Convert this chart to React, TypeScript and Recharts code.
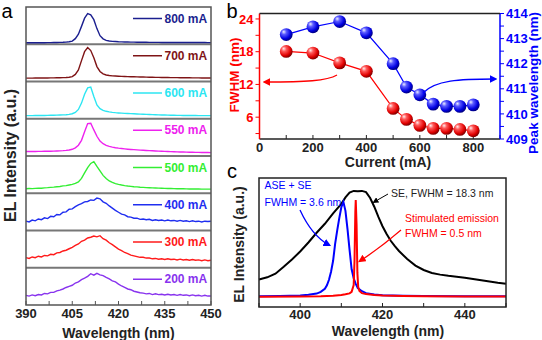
import { LineChart, Line, XAxis, YAxis, ReferenceLine } from "recharts";

const FONT = '"Liberation Sans", Arial, sans-serif';

// ---- panel a: EL spectra at different currents (normalized, one strip each)
const WL_A = [
  390, 391, 392, 393, 394, 395, 396, 397, 398, 399,
  400, 401, 402, 403, 404, 405, 406, 407, 408, 409,
  410, 411, 412, 413, 414, 415, 416, 417, 418, 419,
  420, 421, 422, 423, 424, 425, 426, 427, 428, 429,
  430, 431, 432, 433, 434, 435, 436, 437, 438, 439,
  440, 441, 442, 443, 444, 445, 446, 447, 448, 449, 450,
];

const I_800 = [
  0.04, 0.04, 0.041, 0.04, 0.041, 0.041, 0.042, 0.043, 0.044, 0.045,
  0.047, 0.049, 0.052, 0.057, 0.066, 0.085, 0.15, 0.27, 0.48, 0.7,
  0.82, 0.79, 0.66, 0.42, 0.23, 0.145, 0.105, 0.088, 0.078, 0.072,
  0.067, 0.064, 0.061, 0.059, 0.057, 0.056, 0.055, 0.054, 0.053, 0.052,
  0.051, 0.05, 0.05, 0.049, 0.049, 0.048, 0.048, 0.047, 0.047, 0.047,
  0.046, 0.046, 0.046, 0.046, 0.045, 0.045, 0.045, 0.045, 0.045, 0.044, 0.044,
];
const I_700 = [
  0.09, 0.09, 0.091, 0.092, 0.092, 0.093, 0.094, 0.095, 0.096, 0.097,
  0.099, 0.101, 0.104, 0.108, 0.115, 0.13, 0.19, 0.31, 0.56, 0.8,
  0.91, 0.83, 0.64, 0.4, 0.27, 0.205, 0.175, 0.16, 0.152, 0.146,
  0.141, 0.137, 0.134, 0.131, 0.128, 0.126, 0.124, 0.122, 0.12, 0.118,
  0.116, 0.114, 0.112, 0.11, 0.108, 0.107, 0.106, 0.105, 0.104, 0.103,
  0.102, 0.101, 0.1, 0.099, 0.098, 0.097, 0.096, 0.095, 0.094, 0.093, 0.092,
];
const I_600 = [
  0.084, 0.085, 0.085, 0.086, 0.087, 0.088, 0.089, 0.09, 0.092, 0.094,
  0.096, 0.099, 0.103, 0.108, 0.116, 0.135, 0.17, 0.25, 0.42, 0.66,
  0.83, 0.85, 0.6, 0.37, 0.27, 0.225, 0.2, 0.183, 0.172, 0.163,
  0.156, 0.15, 0.145, 0.141, 0.137, 0.133, 0.129, 0.125, 0.121, 0.117,
  0.113, 0.11, 0.107, 0.104, 0.101, 0.099, 0.097, 0.095, 0.093, 0.091,
  0.09, 0.089, 0.088, 0.087, 0.086, 0.086, 0.085, 0.085, 0.084, 0.084, 0.084,
];
const I_550 = [
  0.12, 0.121, 0.122, 0.121, 0.123, 0.124, 0.126, 0.127, 0.129, 0.131,
  0.134, 0.138, 0.143, 0.15, 0.16, 0.18, 0.22, 0.29, 0.42, 0.65,
  0.87, 0.88, 0.7, 0.53, 0.4, 0.33, 0.285, 0.258, 0.238, 0.222,
  0.21, 0.2, 0.191, 0.183, 0.176, 0.17, 0.164, 0.159, 0.154, 0.149,
  0.145, 0.14, 0.136, 0.132, 0.128, 0.124, 0.12, 0.117, 0.114, 0.111,
  0.108, 0.106, 0.104, 0.102, 0.1, 0.098, 0.096, 0.095, 0.093, 0.092, 0.09,
];
const I_500 = [
  0.12, 0.126, 0.124, 0.131, 0.136, 0.134, 0.145, 0.15, 0.158, 0.165,
  0.176, 0.183, 0.197, 0.205, 0.222, 0.24, 0.265, 0.305, 0.4, 0.545,
  0.69, 0.8, 0.85, 0.72, 0.6, 0.48, 0.395, 0.33, 0.29, 0.258,
  0.238, 0.22, 0.206, 0.195, 0.186, 0.176, 0.17, 0.163, 0.158, 0.152,
  0.148, 0.144, 0.141, 0.137, 0.134, 0.131, 0.129, 0.126, 0.124, 0.122,
  0.121, 0.119, 0.118, 0.116, 0.116, 0.115, 0.113, 0.112, 0.112, 0.111, 0.11,
];
const I_400 = [
  0.25, 0.23, 0.28, 0.26, 0.31, 0.29, 0.34, 0.32, 0.38, 0.37,
  0.43, 0.42, 0.49, 0.5, 0.57, 0.58, 0.64, 0.69, 0.72, 0.77,
  0.78, 0.82, 0.81, 0.87, 0.85, 0.77, 0.73, 0.66, 0.6, 0.54,
  0.49, 0.44, 0.42, 0.37, 0.36, 0.33, 0.33, 0.3, 0.31, 0.29,
  0.3, 0.27, 0.29, 0.27, 0.28, 0.26, 0.28, 0.26, 0.27, 0.25,
  0.27, 0.25, 0.26, 0.24, 0.26, 0.24, 0.25, 0.23, 0.25, 0.24, 0.25,
];
const I_300 = [
  0.27, 0.25, 0.29, 0.27, 0.31, 0.29, 0.33, 0.32, 0.36, 0.35,
  0.4, 0.41, 0.45, 0.47, 0.51, 0.55, 0.6, 0.64, 0.71, 0.74,
  0.8, 0.82, 0.85, 0.83, 0.86, 0.78, 0.74, 0.67, 0.62, 0.56,
  0.5, 0.46, 0.41, 0.38, 0.34, 0.32, 0.3, 0.28, 0.28, 0.26,
  0.26, 0.24, 0.25, 0.23, 0.24, 0.22, 0.24, 0.22, 0.23, 0.21,
  0.23, 0.21, 0.22, 0.2, 0.22, 0.2, 0.21, 0.19, 0.21, 0.19, 0.2,
];
const I_200 = [
  0.26, 0.24, 0.27, 0.25, 0.28, 0.27, 0.31, 0.3, 0.34, 0.34,
  0.38, 0.4, 0.43, 0.47, 0.5, 0.53, 0.59, 0.62, 0.68, 0.72,
  0.77, 0.84, 0.8, 0.85, 0.81, 0.79, 0.74, 0.7, 0.65, 0.62,
  0.56, 0.51, 0.47, 0.43, 0.41, 0.37, 0.35, 0.33, 0.32, 0.3,
  0.31, 0.28, 0.3, 0.28, 0.29, 0.27, 0.29, 0.27, 0.28, 0.26,
  0.28, 0.26, 0.27, 0.25, 0.27, 0.25, 0.26, 0.24, 0.26, 0.24, 0.24,
];

const SERIES_A = [
  { key: "i800", label: "800 mA", color: "#1b1f8f", values: I_800 },
  { key: "i700", label: "700 mA", color: "#7f1416", values: I_700 },
  { key: "i600", label: "600 mA", color: "#2ce6f2", values: I_600 },
  { key: "i550", label: "550 mA", color: "#ee22ee", values: I_550 },
  { key: "i500", label: "500 mA", color: "#33ee33", values: I_500 },
  { key: "i400", label: "400 mA", color: "#1f2ef0", values: I_400 },
  { key: "i300", label: "300 mA", color: "#ff1a1a", values: I_300 },
  { key: "i200", label: "200 mA", color: "#8833ee", values: I_200 },
];

const A_TICKS = [390, 397.5, 405, 412.5, 420, 427.5, 435, 442.5, 450];
const A_TICK_LABELS = [390, 405, 420, 435, 450];
const A_Y_TICKS = Array.from({ length: 33 }, (_, i) => i * 0.25);
const A_SEPARATORS = [1, 2, 3, 4, 5, 6, 7];

// ---- panel b: FWHM and peak wavelength vs current
const CURRENT = [100, 200, 300, 400, 500, 550, 600, 650, 700, 750, 800];
const FWHM = [18.05, 17.75, 15.95, 14.4, 7.6, 5.6, 4.5, 3.95, 3.95, 3.75, 3.5];
const PEAK_WL = [413.16, 413.47, 413.68, 413.23, 412.0, 411.07, 410.76, 410.39, 410.3, 410.3, 410.36];

const CURRENT_TICKS = [0, 100, 200, 300, 400, 500, 600, 700, 800, 900];
const CURRENT_LABELS = [0, 200, 400, 600, 800];
const FWHM_TICKS = [3, 6, 9, 12, 15, 18, 21, 24];
const FWHM_LABELS = [6, 12, 18, 24];
const PEAK_TICKS = [409, 409.5, 410, 410.5, 411, 411.5, 412, 412.5, 413, 413.5, 414];
const PEAK_LABELS = [409, 410, 411, 412, 413, 414];

// ---- panel c: SE, ASE + SE and stimulated emission spectra
const SE_WL = [
  390, 392, 394, 396, 398, 400, 402, 404, 406, 408, 410, 411, 412, 413, 414, 415,
  416, 417, 418, 419, 420, 421, 422, 423, 424, 426, 428, 430, 432, 434, 436, 438,
  440, 442, 444, 446, 448, 450,
];
const SE_I = [
  0.73, 0.82, 0.97, 1.25, 1.55, 1.88, 2.25, 2.65, 3.02, 3.45, 3.84, 4.1, 4.3, 4.37, 4.36, 4.37,
  4.32, 4.08, 3.72, 3.3, 2.92, 2.6, 2.32, 2.1, 1.9, 1.57, 1.3, 1.12, 1.0, 0.93, 0.88, 0.84,
  0.8, 0.75, 0.7, 0.65, 0.6, 0.56,
];
const ASE_WL = [
  390, 395, 400, 402, 404, 405, 406, 406.5, 407, 407.5, 408, 408.5, 409, 409.5, 410,
  410.5, 411, 411.5, 412, 412.5, 413, 413.5, 414, 415, 416, 418, 420, 425, 430, 440, 450,
];
const ASE_I = [
  0.04, 0.05, 0.07, 0.1, 0.15, 0.22, 0.35, 0.49, 0.72, 1.05, 1.5, 2.2, 2.75, 3.25, 3.7,
  3.92, 3.55, 2.8, 1.95, 1.15, 0.78, 0.55, 0.38, 0.25, 0.17, 0.11, 0.08, 0.06, 0.05, 0.04, 0.04,
];
const LASER_WL = [
  390, 400, 405, 408, 410, 411, 412, 412.5, 413, 413.2, 413.4, 413.5, 413.7, 413.9,
  414.1, 414.4, 415, 416, 418, 420, 425, 430, 440, 450,
];
const LASER_I = [
  0.02, 0.03, 0.04, 0.06, 0.09, 0.12, 0.16, 0.22, 0.5, 1.5, 3.5, 3.99, 3.0, 1.0,
  0.42, 0.26, 0.17, 0.13, 0.09, 0.07, 0.05, 0.04, 0.03, 0.03,
];

const C_TICKS = [390, 400, 410, 420, 430, 440, 450];
const C_TICK_LABELS = [400, 420, 440];
const C_Y_TICKS = [0, 1, 2, 3, 4];

const stackRows = WL_A.map((wl, i) => {
  const row: Record<string, number> = { wl };
  SERIES_A.forEach((s, k) => {
    row[s.key] = s.values[i] + (SERIES_A.length - 1 - k);
  });
  return row;
});

const bRows = CURRENT.map((c, i) => ({ current: c, fwhm: FWHM[i], peak: PEAK_WL[i] }));

const toXY = (xs: number[], ys: number[]) => xs.map((x, i) => ({ wl: x, v: ys[i] }));
const seRows = toXY(SE_WL, SE_I);
const aseRows = toXY(ASE_WL, ASE_I);
const laserRows = toXY(LASER_WL, LASER_I);

const tickFont = { fontSize: 13, fontWeight: 700, fill: "#222", fontFamily: FONT };

function ball(id: string) {
  return (props: any) => {
    const { cx, cy, index } = props;
    if (cx == null || cy == null) return <g key={`${id}-${index}`} />;
    return <circle key={`${id}-${index}`} cx={cx} cy={cy} r={6.4} fill={`url(#${id})`} />;
  };
}

function PanelA() {
  // plot area: x 26..211, y 7..305
  return (
    <div style={{ position: "absolute", left: 0, top: 0 }}>
      <LineChart
        width={230}
        height={340}
        data={stackRows}
        margin={{ top: 7, right: 19, bottom: 5, left: 6 }}
      >
        <XAxis
          dataKey="wl"
          type="number"
          domain={[390, 450]}
          ticks={A_TICKS}
          height={30}
          axisLine={false}
          tickSize={-4}
          tickMargin={8}
          tickLine={{ stroke: "#555" }}
          tick={tickFont}
          interval={0}
          tickFormatter={(v: number) => (A_TICK_LABELS.includes(v) ? String(v) : "")}
        />
        <YAxis
          type="number"
          domain={[0, 8]}
          ticks={A_Y_TICKS}
          width={20}
          axisLine={false}
          tickSize={-3}
          tickLine={{ stroke: "#555" }}
          tick={false}
          interval={0}
        />
        {A_SEPARATORS.map((y) => (
          <ReferenceLine key={y} y={y} stroke="#777" strokeWidth={2} />
        ))}
        {SERIES_A.map((s) => (
          <Line
            key={s.key}
            dataKey={s.key}
            type="linear"
            stroke={s.color}
            strokeWidth={1.4}
            dot={false}
            isAnimationActive={false}
          />
        ))}
      </LineChart>
    </div>
  );
}

function PanelB() {
  // plot area: x 259.5..500, y 13.5..139
  return (
    <div style={{ position: "absolute", left: 230, top: 0 }}>
      <LineChart
        width={312}
        height={170}
        data={bRows}
        margin={{ top: 13.5, right: 12, bottom: 6, left: 4.5 }}
      >
        <XAxis
          dataKey="current"
          type="number"
          domain={[0, 900]}
          ticks={CURRENT_TICKS}
          height={25}
          axisLine={{ stroke: "#222", strokeWidth: 1.5 }}
          tickSize={-4}
          tickMargin={8}
          tickLine={{ stroke: "#222" }}
          tick={tickFont}
          interval={0}
          tickFormatter={(v: number) => (CURRENT_LABELS.includes(v) ? String(v) : "")}
        />
        <YAxis
          yAxisId="fwhm"
          type="number"
          domain={[2, 25]}
          ticks={FWHM_TICKS}
          width={25}
          axisLine={{ stroke: "#f00", strokeWidth: 1.5 }}
          tickSize={4}
          tickMargin={2}
          tickLine={{ stroke: "#f00" }}
          tick={{ ...tickFont, fill: "#f00" }}
          interval={0}
          tickFormatter={(v: number) => (FWHM_LABELS.includes(v) ? String(v) : "")}
        />
        <YAxis
          yAxisId="peak"
          orientation="right"
          type="number"
          domain={[409, 414]}
          ticks={PEAK_TICKS}
          width={30}
          axisLine={{ stroke: "#00f", strokeWidth: 1.5 }}
          tickSize={4}
          tickMargin={2}
          tickLine={{ stroke: "#00f" }}
          tick={{ ...tickFont, fill: "#00f" }}
          interval={0}
          tickFormatter={(v: number) => (PEAK_LABELS.includes(v) ? String(v) : "")}
        />
        <Line
          yAxisId="fwhm"
          dataKey="fwhm"
          type="linear"
          stroke="#f00"
          strokeWidth={1.2}
          dot={ball("ballRed")}
          isAnimationActive={false}
        />
        <Line
          yAxisId="peak"
          dataKey="peak"
          type="linear"
          stroke="#00f"
          strokeWidth={1.2}
          dot={ball("ballBlue")}
          isAnimationActive={false}
        />
      </LineChart>
    </div>
  );
}

function PanelC() {
  // plot area: x 259..506, y 178..307
  return (
    <div style={{ position: "absolute", left: 230, top: 170 }}>
      <LineChart width={312} height={170} margin={{ top: 8, right: 36, bottom: 5, left: 9 }}>
        <XAxis
          dataKey="wl"
          type="number"
          domain={[390, 450]}
          ticks={C_TICKS}
          height={28}
          axisLine={false}
          tickSize={-4}
          tickMargin={7}
          tickLine={{ stroke: "#222" }}
          tick={tickFont}
          interval={0}
          tickFormatter={(v: number) => (C_TICK_LABELS.includes(v) ? String(v) : "")}
        />
        <YAxis
          type="number"
          domain={[-0.4, 4.9]}
          ticks={C_Y_TICKS}
          width={20}
          axisLine={false}
          tickSize={-4}
          tickLine={{ stroke: "#222" }}
          tick={false}
          interval={0}
        />
        <Line data={seRows} dataKey="v" type="linear" stroke="#000" strokeWidth={2} dot={false} isAnimationActive={false} />
        <Line data={aseRows} dataKey="v" type="linear" stroke="#0000ff" strokeWidth={2} dot={false} isAnimationActive={false} />
        <Line data={laserRows} dataKey="v" type="linear" stroke="#ff0000" strokeWidth={2} dot={false} isAnimationActive={false} />
      </LineChart>
    </div>
  );
}

function Overlay() {
  const bold = { fontFamily: FONT, fontWeight: 700 } as const;
  const note = { fontFamily: FONT, fontSize: 10.5 } as const;
  return (
    <svg
      width={542}
      height={340}
      style={{ position: "absolute", left: 0, top: 0, pointerEvents: "none" }}
    >
      <defs>
        <radialGradient id="ballBlue" cx="0.38" cy="0.35" r="0.65" fx="0.3" fy="0.28">
          <stop offset="0" stopColor="#eef0ff" />
          <stop offset="0.3" stopColor="#5a5aff" />
          <stop offset="0.75" stopColor="#0000e0" />
          <stop offset="1" stopColor="#000080" />
        </radialGradient>
        <radialGradient id="ballRed" cx="0.38" cy="0.35" r="0.65" fx="0.3" fy="0.28">
          <stop offset="0" stopColor="#fff0f0" />
          <stop offset="0.3" stopColor="#ff5a5a" />
          <stop offset="0.75" stopColor="#e00000" />
          <stop offset="1" stopColor="#800000" />
        </radialGradient>
        {[
          ["ahRed", "#f00"],
          ["ahBlue", "#00f"],
          ["ahBlack", "#000"],
        ].map(([id, c]) => (
          <marker key={id} id={id} viewBox="0 0 10 10" refX="7" refY="5" markerWidth="6" markerHeight="6" orient="auto">
            <path d="M0,0 L10,5 L0,10 z" fill={c} />
          </marker>
        ))}
      </defs>

      {/* panel letters */}
      <text x={7} y={18} textAnchor="middle" fontSize={20} fontFamily={FONT}>a</text>
      <text x={232} y={18} textAnchor="middle" fontSize={20} fontFamily={FONT}>b</text>
      <text x={232} y={178} textAnchor="middle" fontSize={20} fontFamily={FONT}>c</text>

      {/* panel a frame, titles, legends */}
      <rect x={26} y={7} width={185} height={298} fill="none" stroke="#555" strokeWidth={1.5} />
      <text transform="translate(10,155.5) rotate(-90)" textAnchor="middle" dominantBaseline="central" fontSize={16} {...bold} fill="#222">
        EL Intensity (a.u.)
      </text>
      <text x={118.5} y={333} textAnchor="middle" dominantBaseline="central" fontSize={14} {...bold} fill="#222">
        Wavelength (nm)
      </text>
      {SERIES_A.map((s, k) => {
        const y = 7 + (298 / 8) * k + 11.5;
        return (
          <g key={s.key}>
            <line x1={133} x2={162} y1={y} y2={y} stroke={s.color} strokeWidth={1.5} />
            <text x={164.5} y={y} dominantBaseline="central" fontSize={12} {...bold} fill={s.color}>
              {s.label}
            </text>
          </g>
        );
      })}

      {/* panel b */}
      <line x1={259.5} x2={500} y1={13.5} y2={13.5} stroke="#222" strokeWidth={1.5} />
      <text transform="translate(234,75) rotate(-90)" textAnchor="middle" dominantBaseline="central" fontSize={13.5} {...bold} fill="#f00">
        FWHM (nm)
      </text>
      <text transform="translate(533.5,83) rotate(-90)" textAnchor="middle" dominantBaseline="central" fontSize={13.5} {...bold} fill="#00f">
        Peak wavelength (nm)
      </text>
      <text x={388} y={162} textAnchor="middle" dominantBaseline="central" fontSize={14} {...bold} fill="#222">
        Current (mA)
      </text>
      <path d="M337,75 C327,81 305,82 265,82" fill="none" stroke="#f00" strokeWidth={1.3} markerEnd="url(#ahRed)" />
      <path d="M423,93 C435,80 460,79 495,79" fill="none" stroke="#00f" strokeWidth={1.3} markerEnd="url(#ahBlue)" />

      {/* panel c */}
      <rect x={259} y={178} width={247} height={129} fill="none" stroke="#222" strokeWidth={1.5} />
      <text transform="translate(239,244.5) rotate(-90)" textAnchor="middle" dominantBaseline="central" fontSize={14} {...bold} fill="#222">
        EL Intensity (a.u.)
      </text>
      <text x={388} y={330.5} textAnchor="middle" dominantBaseline="central" fontSize={14} {...bold} fill="#222">
        Wavelength (nm)
      </text>
      <text x={264.5} y={185} dominantBaseline="central" {...note} fill="#00f">ASE + SE</text>
      <text x={264.5} y={201.5} dominantBaseline="central" {...note} fill="#00f">FWHM = 3.6 nm</text>
      <text x={391} y={193.3} dominantBaseline="central" {...note} fill="#222">SE, FWHM = 18.3 nm</text>
      <text x={405} y={217.7} dominantBaseline="central" {...note} fill="#f00">Stimulated emission</text>
      <text x={405} y={233.3} dominantBaseline="central" {...note} fill="#f00">FWHM = 0.5 nm</text>
      <path d="M300,210 Q312,236 329,245" fill="none" stroke="#00f" strokeWidth={1.3} markerEnd="url(#ahBlue)" />
      <path d="M388,194 L374,202" fill="none" stroke="#000" strokeWidth={1} markerEnd="url(#ahBlack)" />
      <path d="M401,230 Q380,248 360,261" fill="none" stroke="#f00" strokeWidth={1.3} markerEnd="url(#ahRed)" />
    </svg>
  );
}

export default function App() {
  return (
    <div
      style={{
        position: "absolute",
        left: 0,
        top: 0,
        width: 542,
        height: 340,
        background: "#fff",
        fontFamily: FONT,
      }}
    >
      <PanelA />
      <PanelB />
      <PanelC />
      <Overlay />
    </div>
  );
}
